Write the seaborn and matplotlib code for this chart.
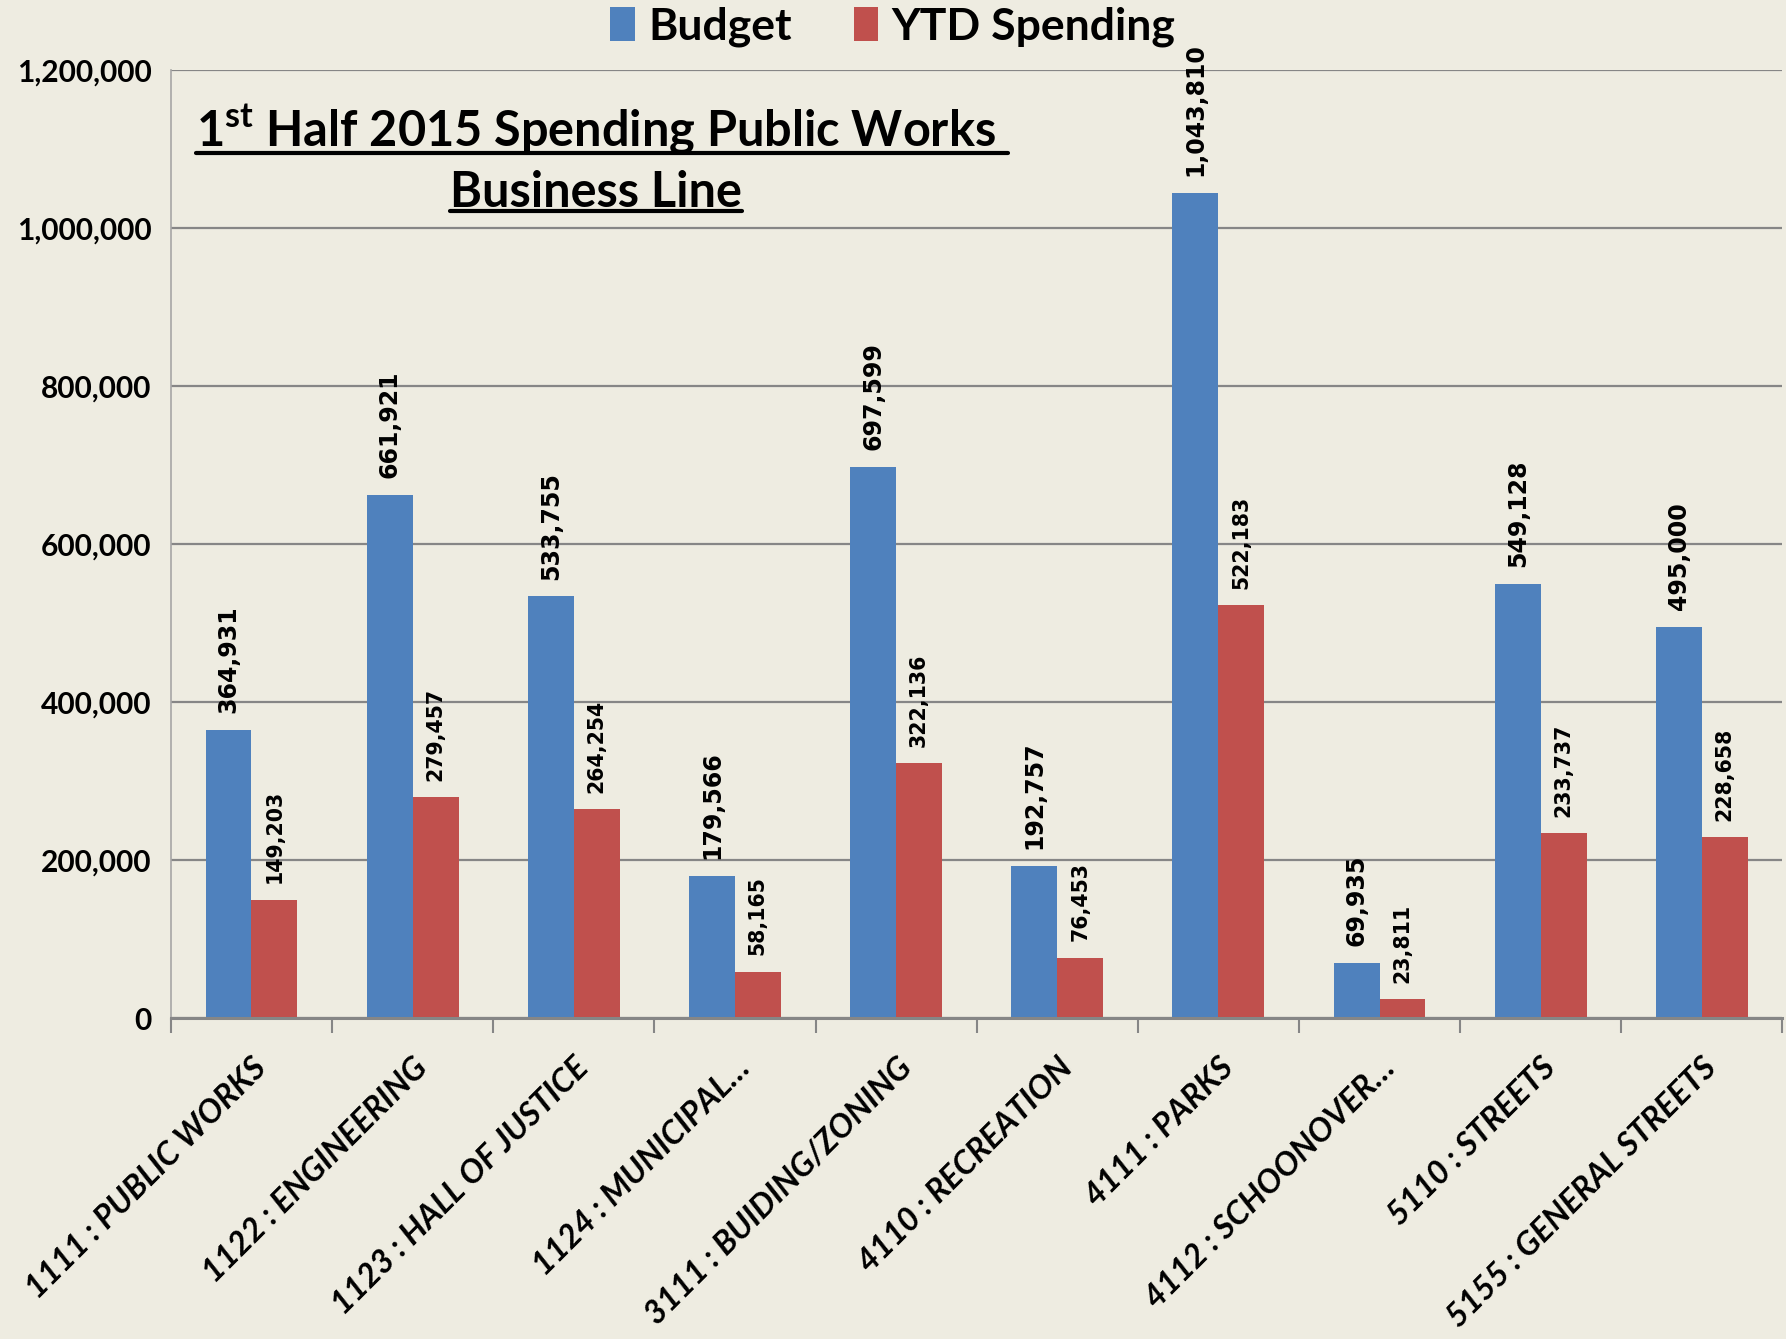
import numpy as np
import pandas as pd
import matplotlib
matplotlib.use("Agg")
import matplotlib.pyplot as plt
from matplotlib.lines import Line2D
from matplotlib.patches import Patch
from matplotlib.ticker import FuncFormatter
import seaborn as sns

# Dados
categorias = [
    "1111 : PUBLIC WORKS",
    "1122 : ENGINEERING",
    "1123 : HALL OF JUSTICE",
    "1124 : MUNICIPAL…",
    "3111 : BUIDING/ZONING",
    "4110 : RECREATION",
    "4111 : PARKS",
    "4112 : SCHOONOVER…",
    "5110 : STREETS",
    "5155 : GENERAL STREETS",
]
budget = [364931, 661921, 533755, 179566, 697599, 192757, 1043810, 69935, 549128, 495000]
ytd_spending = [149203, 279457, 264254, 58165, 322136, 76453, 522183, 23811, 233737, 228658]
series = ["Budget", "YTD Spending"]
y_ticks = [0, 200000, 400000, 600000, 800000, 1000000, 1200000]

CORES = ["#4F81BD", "#C0504D"]
FUNDO = "#EEECE1"
CINZA = "#868686"

df = pd.DataFrame({
    "categoria": categorias * 2,
    "serie": [series[0]] * len(categorias) + [series[1]] * len(categorias),
    "valor": budget + ytd_spending,
})

sns.set_theme(style="white")
plt.rcParams["font.family"] = ["Lato", "DejaVu Sans"]
plt.rcParams["text.color"] = "black"
plt.rcParams["xtick.color"] = "black"
plt.rcParams["ytick.color"] = "black"
plt.rcParams["mathtext.fontset"] = "custom"
plt.rcParams["mathtext.rm"] = "Lato:bold"
plt.rcParams["mathtext.bf"] = "Lato:bold"

fig = plt.figure(figsize=(17.86, 13.39), dpi=100, facecolor=FUNDO)
ax = fig.add_axes([0.0957, 0.2397, 0.9023, 0.7083])
ax.set_facecolor(FUNDO)

sns.barplot(
    data=df, x="categoria", y="valor", hue="serie", hue_order=series,
    palette=CORES, saturation=1, width=0.57, linewidth=0, legend=False, ax=ax,
)

# rótulos de dados verticais
tamanhos = [17, 14.8]
for cont, tam in zip(ax.containers, tamanhos):
    ax.bar_label(
        cont, labels=[f"{v:,.0f}" for v in cont.datavalues], rotation=90,
        padding=12, fontsize=tam, fontweight="bold", family="DejaVu Sans", color="black",
    )

# eixo y
ax.set_ylim(0, y_ticks[-1])
ax.set_yticks(y_ticks)
ax.yaxis.set_major_formatter(FuncFormatter(lambda v, _: f"{v:,.0f}"))
ax.grid(axis="y", color=CINZA, linewidth=1.6)
ax.set_axisbelow(True)
ax.tick_params(axis="y", length=8, width=1.2, color=CINZA, labelsize=21.5,
               labelcolor="black", pad=6)
for lbl in ax.get_yticklabels():
    lbl.set_fontweight("bold")

# eixo x: marcas nas fronteiras das categorias
ax.set_xlim(-0.5, len(categorias) - 0.5)
ax.set_xticks(range(len(categorias)))
ax.set_xticklabels(categorias, rotation=45, ha="right", rotation_mode="anchor",
                   fontsize=23.5, fontweight="bold", fontstyle="italic", color="black")
ax.set_xticks(np.arange(-0.5, len(categorias), 1), minor=True)
ax.tick_params(axis="x", which="major", length=0, pad=25)
ax.tick_params(axis="x", which="minor", length=11, width=1.5, color=CINZA, bottom=True)
ax.set_xlabel("")
ax.set_ylabel("")

for lado in ["top", "right"]:
    ax.spines[lado].set_visible(False)
ax.spines["left"].set_color("#A6A6A6")
ax.spines["left"].set_linewidth(1.2)
ax.spines["bottom"].set_color(CINZA)
ax.spines["bottom"].set_linewidth(2.2)

# legenda no topo
handles = [Patch(facecolor=c, edgecolor="none") for c in CORES]
fig.legend(handles, series, loc="upper center", bbox_to_anchor=(0.5, 1.025), ncol=2,
           frameon=False, prop={"size": 32, "weight": "bold"}, handlelength=0.55,
           handleheight=0.8, handletextpad=0.3, columnspacing=1.4)

# título sublinhado dentro do gráfico
t1 = ax.text(0.264, 0.919, "1$^{\\mathrm{st}}$ Half 2015 Spending Public Works",
             transform=ax.transAxes, ha="center", va="baseline", fontsize=35,
             fontweight="bold", color="black")
t2 = ax.text(0.264, 0.855, "Business Line", transform=ax.transAxes, ha="center",
             va="baseline", fontsize=35, fontweight="bold", color="black")

fig.canvas.draw()
renderer = fig.canvas.get_renderer()
for t, extra in [(t1, 12), (t2, 0)]:
    bb = t.get_window_extent(renderer)
    y = bb.y0 + 4
    fig.add_artist(Line2D([bb.x0, bb.x1 + extra], [y, y], transform=None,
                          color="black", linewidth=3))

fig.savefig("out.png", dpi=100, facecolor=FUNDO)
